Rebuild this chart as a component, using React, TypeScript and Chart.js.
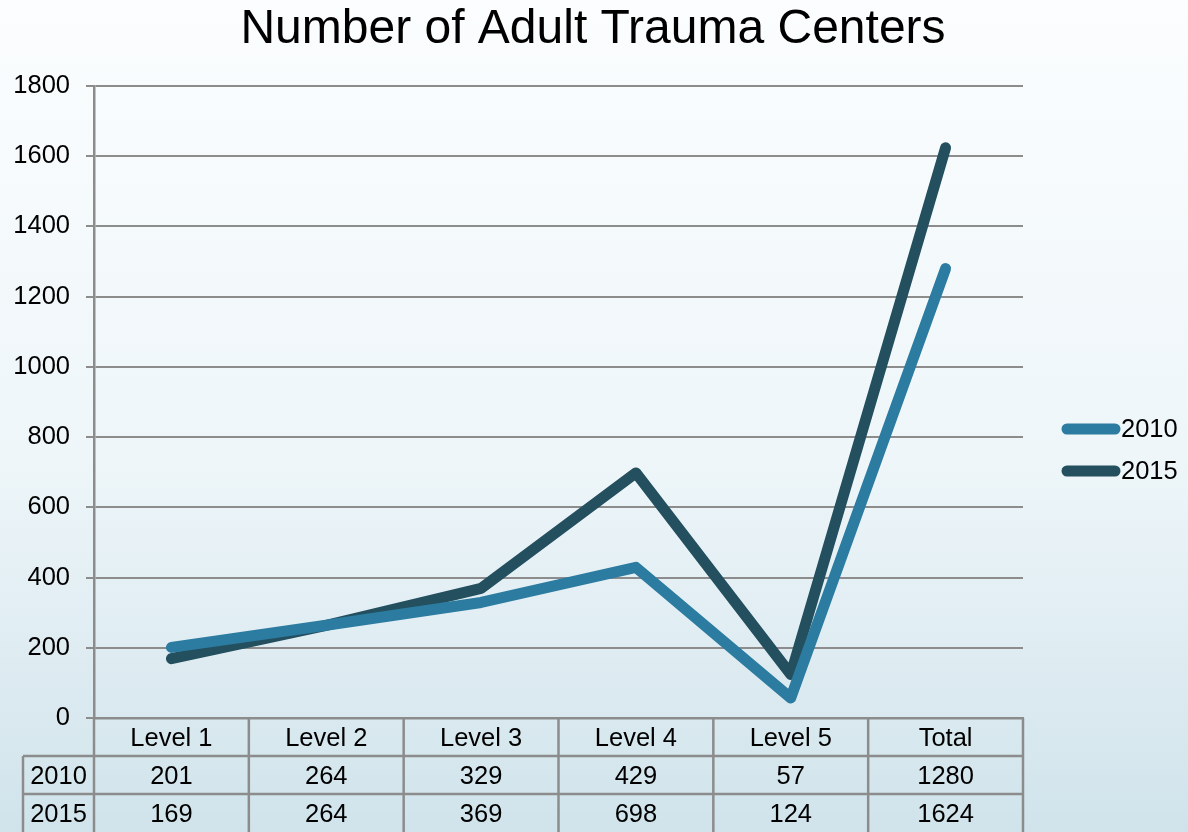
import React, { useEffect, useRef } from "react";
import { Chart, registerables } from "chart.js";

Chart.register(...registerables);

const TITLE = "Number of Adult Trauma Centers";
const categories = ["Level 1", "Level 2", "Level 3", "Level 4", "Level 5", "Total"];
const seriesNames = ["2010", "2015"];
const values2010 = [201, 264, 329, 429, 57, 1280];
const values2015 = [169, 264, 369, 698, 124, 1624];
const seriesColors = ["#2c7ba0", "#234f5f"];
const yMin = 0;
const yMax = 1800;
const yStep = 200;

const FONT = "'Liberation Sans', Arial, sans-serif";
const GRID = "#8c8c8c";
const FS = 25.5;

const bgPlugin = {
  id: "bg",
  beforeDraw(chart: any) {
    const { ctx, width, height } = chart;
    const g = ctx.createLinearGradient(0, 0, 0, height);
    g.addColorStop(0, "#fbfdfe");
    g.addColorStop(0.55, "#eef6f9");
    g.addColorStop(1, "#d0e3eb");
    ctx.save();
    ctx.fillStyle = g;
    ctx.fillRect(0, 0, width, height);
    ctx.restore();
  },
};

const titlePlugin = {
  id: "customTitle",
  afterDraw(chart: any) {
    const { ctx, width } = chart;
    ctx.save();
    ctx.fillStyle = "#000";
    ctx.font = `48px ${FONT}`;
    ctx.textAlign = "center";
    ctx.textBaseline = "alphabetic";
    ctx.fillText(TITLE, width / 2 - 1, 43);
    ctx.restore();
  },
};

const tablePlugin = {
  id: "table",
  afterDraw(chart: any) {
    const { ctx, chartArea } = chart;
    const xs = chart.scales.x;
    const n = categories.length;
    const left = chartArea.left;
    const right = chartArea.right;
    const bottom = chartArea.bottom;
    const rowH = 38;
    const labelLeft = 23;
    const step = (right - left) / n;
    ctx.save();
    ctx.strokeStyle = GRID;
    ctx.lineWidth = 2.5;
    for (let r = 1; r <= 2; r++) {
      const y = bottom + rowH * r;
      ctx.beginPath();
      ctx.moveTo(labelLeft, y);
      ctx.lineTo(right, y);
      ctx.stroke();
    }
    for (let i = 0; i <= n; i++) {
      const x = left + step * i;
      ctx.beginPath();
      ctx.moveTo(x, bottom);
      ctx.lineTo(x, chart.height);
      ctx.stroke();
    }
    ctx.beginPath();
    ctx.moveTo(labelLeft, bottom + rowH);
    ctx.lineTo(labelLeft, chart.height);
    ctx.stroke();
    ctx.fillStyle = "#000";
    ctx.font = `${FS}px ${FONT}`;
    ctx.textAlign = "center";
    ctx.textBaseline = "middle";
    const rows = [values2010, values2015];
    rows.forEach((vals, r) => {
      const cy = bottom + rowH * (r + 1) + rowH / 2 + 2;
      ctx.fillText(seriesNames[r], (labelLeft + left) / 2, cy);
      vals.forEach((v, i) => {
        ctx.fillText(String(v), xs.getPixelForValue(i), cy);
      });
    });
    ctx.restore();
  },
};

const legendPlugin = {
  id: "customLegend",
  afterDraw(chart: any) {
    const { ctx } = chart;
    const ys = [429, 471];
    ctx.save();
    chart.data.datasets.forEach((ds: any, i: number) => {
      ctx.strokeStyle = ds.borderColor;
      ctx.lineWidth = 11;
      ctx.lineCap = "round";
      ctx.beginPath();
      ctx.moveTo(1067, ys[i]);
      ctx.lineTo(1115, ys[i]);
      ctx.stroke();
      ctx.fillStyle = "#000";
      ctx.font = `${FS}px ${FONT}`;
      ctx.textAlign = "left";
      ctx.textBaseline = "middle";
      ctx.fillText(ds.label, 1121, ys[i] + 1);
    });
    ctx.restore();
  },
};

export default function App() {
  const ref = useRef<HTMLCanvasElement | null>(null);
  useEffect(() => {
    if (!ref.current) return;
    const mk = (i: number, data: number[]) => ({
      label: seriesNames[i],
      data,
      borderColor: seriesColors[i],
      backgroundColor: seriesColors[i],
      borderWidth: 11,
      pointRadius: 0,
      tension: 0,
      borderCapStyle: "round",
      borderJoinStyle: "round",
    });
    const chart = new Chart(ref.current, {
      type: "line",
      data: {
        labels: categories,
        datasets: [mk(0, values2010), mk(1, values2015)],
      },
      options: {
        responsive: true,
        maintainAspectRatio: false,
        animation: false,
        layout: { padding: { left: 0, right: 165, top: 86, bottom: 0 } },
        plugins: {
          legend: { display: false },
          tooltip: { enabled: false },
          title: { display: false },
        },
        scales: {
          x: {
            type: "category",
            offset: true,
            grid: { display: false, drawTicks: false },
            border: { display: true, color: GRID, width: 2.5 },
            ticks: {
              color: "#000",
              font: { family: FONT, size: FS },
              padding: 6,
              maxRotation: 0,
              autoSkip: false,
            },
            afterFit(scale: any) {
              scale.height = 114;
            },
          },
          y: {
            min: yMin,
            max: yMax,
            ticks: {
              stepSize: yStep,
              color: "#000",
              font: { family: FONT, size: FS },
              padding: 16,
              callback: (v: any) => String(v),
            },
            grid: { color: GRID, lineWidth: 2, tickLength: 8 },
            border: { display: true, color: GRID, width: 2.5 },
            afterFit(scale: any) {
              scale.width = 94;
            },
          },
        },
      },
      plugins: [bgPlugin, titlePlugin, tablePlugin, legendPlugin],
    } as any);
    return () => chart.destroy();
  }, []);
  return (
    <div style={{ position: "fixed", left: 0, top: 0, width: 1188, height: 832 }}>
      <canvas ref={ref} />
    </div>
  );
}
